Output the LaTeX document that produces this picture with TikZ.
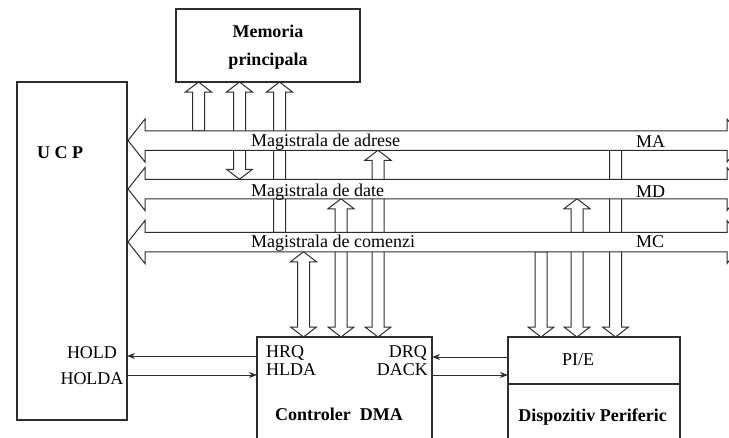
\documentclass[tikz,border=0pt]{standalone}
\usepackage{fontspec}
\setmainfont{Liberation Serif}
\usetikzlibrary{calc,arrows.meta}
\definecolor{linec}{RGB}{45,45,45}
% block arrows: #1 top coordinate, #2 bottom coordinate (same x)
\newcommand{\dblarr}[2]{%
  \draw[barrow] ($(#1)+(-6,10)$) -- ($(#1)+(-13,10)$) -- (#1) -- ($(#1)+(13,10)$) -- ($(#1)+(6,10)$)
     -- ($(#2)+(6,-10)$) -- ($(#2)+(13,-10)$) -- (#2) -- ($(#2)+(-13,-10)$) -- ($(#2)+(-6,-10)$) -- cycle;}
\newcommand{\uparr}[2]{%
  \draw[barrow] ($(#1)+(-6,10)$) -- ($(#1)+(-13,10)$) -- (#1) -- ($(#1)+(13,10)$) -- ($(#1)+(6,10)$)
     -- ($(#2)+(6,0)$) -- ($(#2)+(-6,0)$) -- cycle;}
\newcommand{\downarr}[2]{%
  \draw[barrow] ($(#1)+(-6,0)$) -- ($(#1)+(6,0)$)
     -- ($(#2)+(6,-10)$) -- ($(#2)+(13,-10)$) -- (#2) -- ($(#2)+(-13,-10)$) -- ($(#2)+(-6,-10)$) -- cycle;}
% bus: #1 centre y
\newcommand{\busshape}[1]{%
  \draw[busst] (128,#1) -- (145,#1-21.5) -- (145,#1-9.75) -- (727,#1-9.75) -- (727,#1-21.5) -- (744,#1)
     -- (727,#1+21.5) -- (727,#1+9.75) -- (145,#1+9.75) -- (145,#1+21.5) -- cycle;}
\begin{document}
\begin{tikzpicture}[x=1pt,y=-1pt,
  ln/.style={draw=linec, line width=1.2pt},
  box/.style={ln, fill=white, anchor=north west, inner sep=0pt, outer sep=0pt},
  barrow/.style={draw=linec, line width=1pt, fill=white, line join=miter},
  busst/.style={draw=linec, line width=1pt, fill=white, line join=miter},
  txt/.style={font=\fontsize{18}{20}\selectfont, inner sep=0pt, text=black},
  btxt/.style={font=\fontsize{18}{20}\selectfont\bfseries, inner sep=0pt, text=black},
  sig/.style={draw=linec, line width=1pt, -{Stealth[length=8pt,width=6pt,inset=2.5pt]}}
]
\clip (0,0) rectangle (729,437);
\fill[white] (0,0) rectangle (729,437);

% boxes
\node[box, minimum width=184pt, minimum height=73pt] (mem) at (176,9) {};
\node[box, minimum width=110pt, minimum height=338pt] (ucp) at (17,82) {};
\node[box, minimum width=175pt, minimum height=130pt] (dma) at (257,337) {};
\node[box, minimum width=172pt, minimum height=130pt] (dev) at (508,337) {};
\coordinate (dl) at (508,384);
\coordinate (dr) at (680,384);
\draw[ln] (dl) -- (dr);

% block arrow end points
\coordinate (m1t) at (198.5,82);  \coordinate (m1b) at (198.5,130.75);
\coordinate (m2t) at (239.5,82);  \coordinate (m2b) at (239.5,179.25);
\coordinate (m3t) at (279.5,82);  \coordinate (m3b) at (279.5,232.25);
\coordinate (d1t) at (303.5,251.75); \coordinate (d1b) at (303.5,337);
\coordinate (d2t) at (341,198.75);   \coordinate (d2b) at (341,337);
\coordinate (d3t) at (378,150.25);   \coordinate (d3b) at (378,337);
\coordinate (p1t) at (541,251.75);   \coordinate (p1b) at (541,337);
\coordinate (p2t) at (577,198.75);   \coordinate (p2b) at (577,337);
\coordinate (p3t) at (615.5,150.25); \coordinate (p3b) at (615.5,337);

\uparr{m1t}{m1b}
\dblarr{m2t}{m2b}
\uparr{m3t}{m3b}
\dblarr{d1t}{d1b}
\dblarr{d2t}{d2b}
\dblarr{d3t}{d3b}
\downarr{p1t}{p1b}
\dblarr{p2t}{p2b}
\downarr{p3t}{p3b}

% buses
\busshape{140.5}
\busshape{189}
\busshape{242}

% bus labels
\node[txt, anchor=base west] (lma) at (251,146) {Magistrala de adrese};
\node[txt, anchor=base west] (lmd) at (251,196) {Magistrala de date};
\node[txt, anchor=base west] (lmc) at (251,247) {Magistrala de comenzi};
\node[txt, anchor=base west] (ma) at (636,147) {MA};
\node[txt, anchor=base west] (md) at (636,197) {MD};
\node[txt, anchor=base west] (mc) at (636,247) {MC};

% box texts
\node[btxt, anchor=base] (mem1) at (268,37) {Memoria};
\node[btxt, anchor=base] (mem2) at (268,65) {principala};
\node[btxt, anchor=base west] (ucpt) at (37,158) {U C P};
\node[txt, anchor=base] (hold) at (92,358) {HOLD};
\node[txt, anchor=base] (holda) at (92,384) {HOLDA};
\node[txt, anchor=base west] (hrq) at (266,357) {HRQ};
\node[txt, anchor=base west] (hlda) at (266,375) {HLDA};
\node[txt, anchor=base east] (drq) at (427,357) {DRQ};
\node[txt, anchor=base east] (dack) at (428,375) {DACK};
\node[btxt, anchor=base west] (dmat) at (275,420) {Controler~~DMA};
\node[txt, anchor=base] (pie) at (578,365) {PI/E};
\node[btxt, anchor=base] (devt) at (592.5,421) {Dispozitiv Periferic};

% signal arrows
\coordinate (hrqL) at (257,356);  \coordinate (holdR) at (127,356);
\coordinate (holdaR) at (127,375); \coordinate (hldaL) at (257,375);
\coordinate (devL1) at (508,357);  \coordinate (drqR) at (432,357);
\coordinate (dackR) at (432,375);  \coordinate (devL2) at (508,375);
\draw[sig] (hrqL) -- (holdR);
\draw[sig] (holdaR) -- (hldaL);
\draw[sig] (devL1) -- (drqR);
\draw[sig] (dackR) -- (devL2);
\end{tikzpicture}
\end{document}
